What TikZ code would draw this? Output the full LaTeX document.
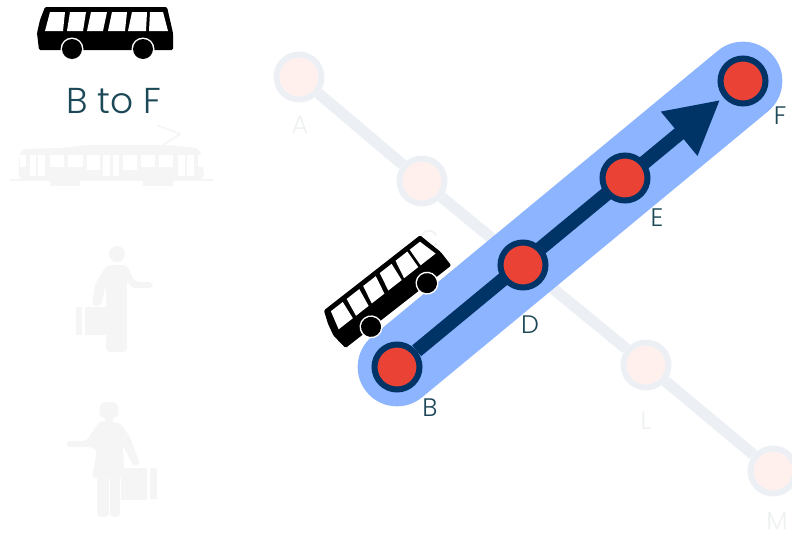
\documentclass[tikz,border=0pt]{standalone}
\usepackage{fontspec}
\usepackage{xcolor}
\setmainfont[UprightFont=* Light]{Poppins}
\usetikzlibrary{arrows.meta}
\definecolor{bandblue}{RGB}{141,180,255}
\definecolor{navy}{RGB}{0,51,102}
\definecolor{stopred}{RGB}{234,67,53}
\definecolor{labelteal}{RGB}{28,72,88}
\definecolor{fadeline}{RGB}{236,240,245}
\definecolor{fadefill}{RGB}{255,240,238}
\definecolor{fadetext}{RGB}{238,241,241}
\definecolor{fadeicon}{RGB}{245,245,245}
\tikzset{
  stopnode/.style={circle,draw=navy,fill=stopred,line width=4.5pt,minimum size=33.75pt,inner sep=0pt},
  fadenode/.style={circle,draw=fadeline,fill=fadefill,line width=4.5pt,minimum size=33.75pt,inner sep=0pt},
  fadeedge/.style={fadeline,line width=8.5pt},
  stoplabel/.style={text=labelteal,font=\fontsize{19}{22}\selectfont,inner sep=0pt},
  fadelabel/.style={text=fadetext,font=\fontsize{19}{22}\selectfont,inner sep=0pt},
  busicon/.pic={
    \fill[black,rounded corners=1pt] (-62.5,-42) -- (59.5,-42) -- (65.5,-16) -- (65.5,1) -- (-68.5,1) -- (-70.5,-16) -- (-67.5,-29) -- cycle;
    \foreach \a/\b/\c/\d in {-57.5/-42.5/-44.5/-62.5,-37.5/-21.5/-24.5/-40.5,-16.5/-0.5/-4.5/-20.5,4.5/19.5/17.5/0.5,24.5/39.5/38.5/20.5,42.5/55.5/60.5/41.5}
      \fill[white] (\a,-37) -- (\b,-37) -- (\c,-18) -- (\d,-18) -- cycle;
    \foreach \x in {-35.5,35.5} {
      \fill[white] (\x,0) circle (11.5);
      \fill[black] (\x,0) circle (10);
    }
  }
}
\begin{document}
\begin{tikzpicture}[x=0.75pt,y=-0.75pt]
  \useasboundingbox (0,0) rectangle (792,536);

  % Faded tram
  \begin{scope}[fadeicon]
    \fill[rounded corners=5pt] (18,180) -- (20,149) -- (60,148) -- (90,145) -- (165,145) -- (200,148) -- (205,180) -- cycle;
    \fill (10,179) rectangle (213,181);
    \fill (50,180) rectangle (80,186);
    \fill (143,180) rectangle (173,186);
    \draw[line width=1.2pt] (157,125) -- (180,134) -- (163,145);
    \foreach \a/\b/\c in {20/26/167,30/36/176,38/45/176,50/64/167,68/83/167,87/100/170,103/110/176,113/119/176,123/137/170,141/155/167,159/173/167,178/185/176,187/194/176,198/203/167}
      \fill[white] (\a,155) rectangle (\b,\c);
  \end{scope}

  % Faded man
  \begin{scope}[fadeicon]
    \fill (117,254) circle (8);
    \fill[rounded corners=3pt] (107,265) -- (127,265) -- (135,282) -- (153,282) -- (153,288) -- (131,288) -- (127,280) -- (127,352) -- (106,352) -- (106,284) -- (101,306) -- (92,306) -- (95,284) -- cycle;
    \fill (85,307) rectangle (106,335);
    \fill (76,307) rectangle (82,335);
  \end{scope}

  % Faded woman
  \begin{scope}[fadeicon]
    \fill[rounded corners=4pt] (99,418) -- (100,402) -- (118,402) -- (119,418) -- cycle;
    \fill (105,416) rectangle (113,424);
    \fill[rounded corners=2pt] (100,421) -- (120,423) -- (130,437) -- (140,464) -- (133,466) -- (123,445) -- (124,478) -- (92,478) -- (97,450) -- (90,447) -- (67,447) -- (67,441) -- (86,441) -- cycle;
    \fill[rounded corners=3pt] (97,475) rectangle (109,517);
    \fill[rounded corners=3pt] (110,475) rectangle (120,517);
    \fill (121,468) rectangle (147,500);
    \fill (150,468) rectangle (157,499);
  \end{scope}

  % Faded line
  \node[fadenode] (A) at (299,77) {};
  \node[fadenode] (C) at (422,181) {};
  \node[fadenode] (L) at (646,365) {};
  \node[fadenode] (M) at (773,471) {};
  \draw[fadeedge] (A) -- (C);
  \draw[fadeedge] (C) -- (L);
  \draw[fadeedge] (L) -- (M);
  \node[fadelabel] (labelA) at (300,125) {A};
  \node[fadelabel] (labelC) at (429,240) {C};
  \node[fadelabel] (labelL) at (646,421) {L};
  \node[fadelabel] (labelM) at (777,521) {M};

  % Route band
  \coordinate (bandB) at (397,367);
  \coordinate (bandF) at (743,81);
  \draw[bandblue,line width=59pt,line cap=round] (bandB) -- (bandF);

  % Route stops
  \node[stopnode] (B) at (bandB) {};
  \node[stopnode] (F) at (bandF) {};
  \draw[navy,line width=10.5pt,-{Triangle[length=40pt,width=40pt]},shorten >=3pt] (B) -- (F);
  \node[stopnode] (D) at (523,265) {};
  \node[stopnode] (E) at (625,178) {};
  \node[stoplabel] (labelB) at (430,408) {B};
  \node[stoplabel] (labelD) at (530,325) {D};
  \node[stoplabel] (labelE) at (657,218) {E};
  \node[stoplabel] (labelF) at (780,116) {F};

  % Buses
  \pic at (107.5,49) {busicon};
  \pic[rotate=38] at (399,305) {busicon};
  \node[text=labelteal,font=\fontsize{27}{30}\selectfont,inner sep=0pt] (title) at (114,101) {B to F};
\end{tikzpicture}
\end{document}
